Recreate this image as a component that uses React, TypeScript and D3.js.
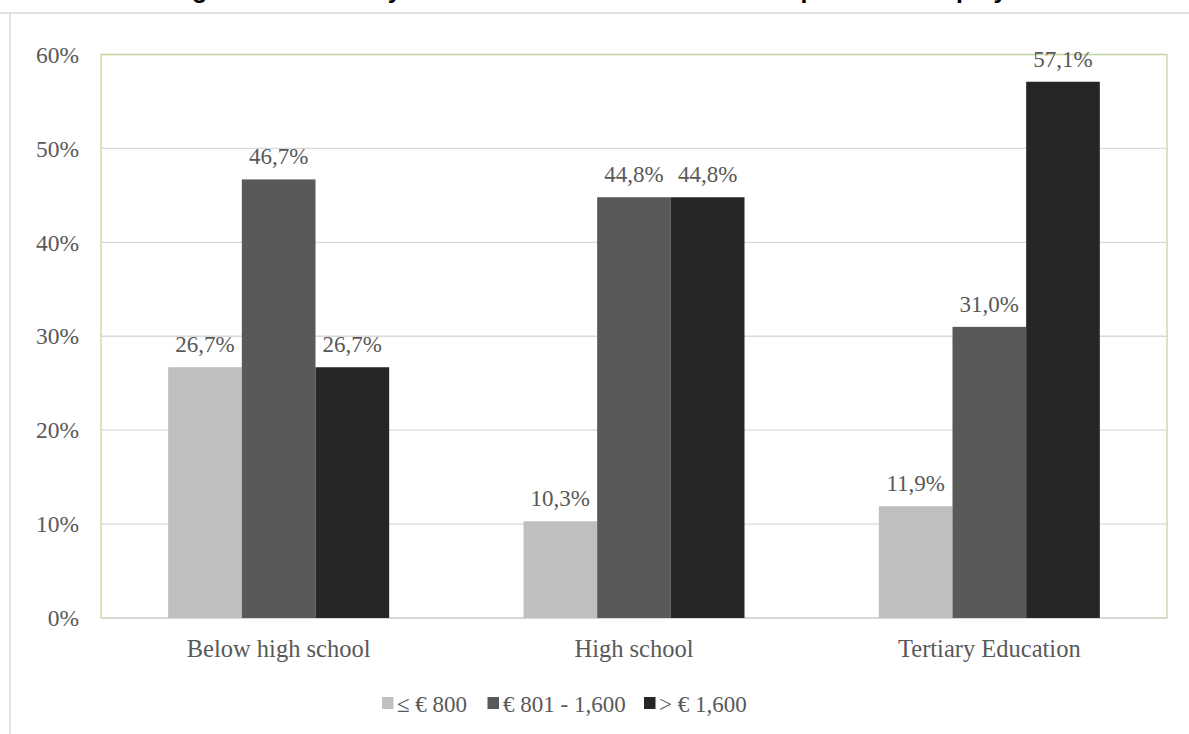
import React from "react";
import * as d3 from "d3";

const categories = ["Below high school", "High school", "Tertiary Education"];
const seriesNames = ["≤ € 800", "€ 801 - 1,600", "> € 1,600"];
const seriesColors = ["#bfbfbf", "#595959", "#262626"];
const lowWage = [26.7, 10.3, 11.9];
const midWage = [46.7, 44.8, 31.0];
const highWage = [26.7, 44.8, 57.1];
const yTicks = [0, 10, 20, 30, 40, 50, 60];
const title = "Wage distribution by educational attainment of the respondents employed";

const W = 1189;
const H = 734;
const plot = { left: 101, right: 1167, top: 54.5, bottom: 618 };

export default function App() {
  const series = [lowWage, midWage, highWage];
  const y = d3.scaleLinear().domain([0, 60]).range([plot.bottom, plot.top]);
  const x0 = d3.scaleBand<string>().domain(categories).range([plot.left, plot.right]).paddingInner(0).paddingOuter(0);
  const groupW = 221;
  const x1 = d3
    .scaleBand<number>()
    .domain([0, 1, 2])
    .range([0, groupW])
    .padding(0);
  const fmt = (v: number) => v.toFixed(1).replace(".", ",") + "%";
  const textColor = "#595959";
  const serif = "'Liberation Serif', 'DejaVu Serif', serif";

  // legend layout
  const legendItems = [
    { sq: 382, tx: 397 },
    { sq: 487.5, tx: 503 },
    { sq: 644, tx: 659 },
  ];

  return (
    <svg
      width={W}
      height={H}
      style={{ position: "absolute", left: 0, top: 0, background: "#fff" }}
    >
      {/* title (cut off at top, as in the reference) */}
      <text
        x={596}
        y={-2.5}
        textAnchor="middle"
        fontFamily="'Liberation Sans', Arial, sans-serif"
        fontWeight="bold"
        fontSize={25}
        fill="#000"
      >
        {title}
      </text>
      {/* outer chart border */}
      <line x1={0} x2={W} y1={13} y2={13} stroke="#d9d9d9" strokeWidth={1.5} />
      <line x1={10} x2={10} y1={13} y2={H} stroke="#d9d9d9" strokeWidth={1.5} />

      {/* gridlines */}
      {yTicks.map((t) => (
        <line
          key={"g" + t}
          x1={plot.left}
          x2={plot.right}
          y1={y(t)}
          y2={y(t)}
          stroke="#d9d9d9"
          strokeWidth={1.3}
        />
      ))}
      {/* plot area border */}
      <rect
        x={plot.left}
        y={plot.top}
        width={plot.right - plot.left}
        height={plot.bottom - plot.top}
        fill="none"
        stroke="#c4d79b"
        strokeWidth={1.3}
      />
      <line x1={plot.left} x2={plot.right} y1={y(0)} y2={y(0)} stroke="#d9d9d9" strokeWidth={1.5} />

      {/* y tick labels */}
      {yTicks.map((t) => (
        <text
          key={"t" + t}
          x={79}
          y={y(t)}
          dy="0.35em"
          textAnchor="end"
          fontFamily={serif}
          fontSize={23.5}
          fill={textColor}
        >
          {t + "%"}
        </text>
      ))}

      {/* bars */}
      {categories.map((c, ci) => {
        const gx = (x0(c) as number) + x0.bandwidth() / 2 - groupW / 2;
        return (
          <g key={c}>
            {series.map((s, si) => {
              const bx = gx + (x1(si) as number);
              const bw = x1.bandwidth();
              return (
                <g key={si}>
                  <rect
                    x={bx}
                    y={y(s[ci])}
                    width={bw}
                    height={y(0) - y(s[ci])}
                    fill={seriesColors[si]}
                  />
                  <text
                    x={bx + bw / 2}
                    y={y(s[ci]) - 15}
                    textAnchor="middle"
                    fontFamily={serif}
                    fontSize={23}
                    fill={textColor}
                  >
                    {fmt(s[ci])}
                  </text>
                </g>
              );
            })}
            <text
              x={(x0(c) as number) + x0.bandwidth() / 2}
              y={657}
              textAnchor="middle"
              fontFamily={serif}
              fontSize={24.5}
              fill={textColor}
            >
              {c}
            </text>
          </g>
        );
      })}

      {/* legend */}
      {seriesNames.map((n, i) => (
        <g key={n}>
          <rect x={legendItems[i].sq} y={697} width={11.5} height={12} fill={seriesColors[i]} />
          <text
            x={legendItems[i].tx}
            y={712}
            fontFamily={serif}
            fontSize={23}
            fill={textColor}
          >
            {n}
          </text>
        </g>
      ))}
    </svg>
  );
}
